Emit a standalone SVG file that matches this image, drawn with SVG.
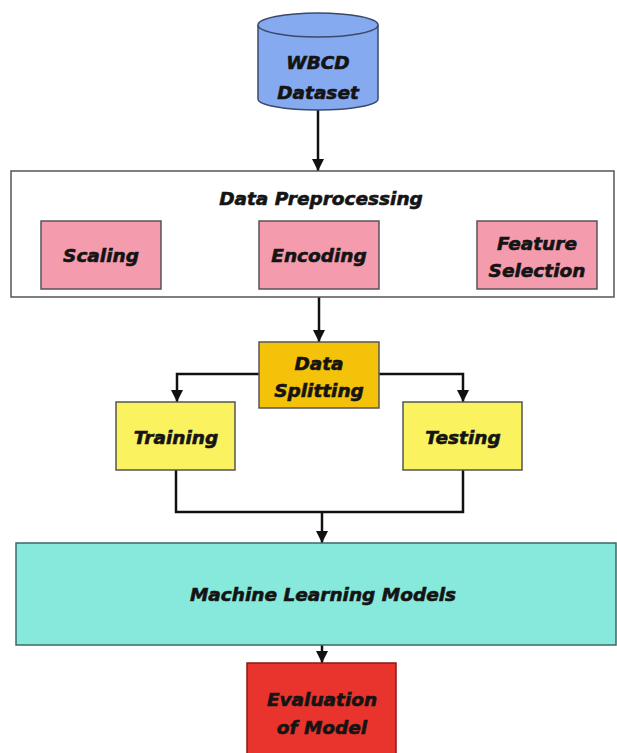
<svg xmlns="http://www.w3.org/2000/svg" width="617" height="753" viewBox="0 0 617 753">
  <defs>
    <marker id="arrow" viewBox="0 0 10 10" refX="10" refY="5" markerWidth="4.8" markerHeight="4.8" orient="auto" markerUnits="strokeWidth">
      <path d="M0,0 L10,5 L0,10 Z" fill="#111"/>
    </marker>
    <style>
      .lbl { font-family: "DejaVu Sans", "Liberation Sans", sans-serif; font-weight: bold; font-style: italic; font-size: 18.5px; fill: #141414; text-anchor: middle; stroke: #141414; stroke-width: 0.6; }
      .box { stroke: #555; stroke-width: 1.5; }
      .wire { fill: none; stroke: #111; stroke-width: 2.5; }
    </style>
  </defs>
  <rect width="617" height="753" fill="#fff"/>

  <!-- connectors -->
  <g id="connectors">
    <path class="wire" d="M318,110 V171" marker-end="url(#arrow)"/>
    <path class="wire" d="M319,297 V342" marker-end="url(#arrow)"/>
    <path class="wire" d="M259,374 H177 V402" marker-end="url(#arrow)"/>
    <path class="wire" d="M379,374 H463 V402" marker-end="url(#arrow)"/>
    <path class="wire" d="M176,470 V512 H463 V470"/>
    <path class="wire" d="M322,512 V543" marker-end="url(#arrow)"/>
    <path class="wire" d="M322,645 V663" marker-end="url(#arrow)"/>
  </g>

  <!-- dataset cylinder -->
  <g id="dataset">
    <path d="M258,25 V99 A60,11 0 0 0 378,99 V25" fill="#86aaf0" stroke="#3a4a6a" stroke-width="1.5"/>
    <ellipse cx="318" cy="25" rx="60" ry="12" fill="#86aaf0" stroke="#3a4a6a" stroke-width="1.5"/>
    <text class="lbl" x="318" y="69">WBCD</text>
    <text class="lbl" x="318" y="99">Dataset</text>
  </g>

  <!-- preprocessing container -->
  <g id="preprocessing">
    <rect x="11" y="171" width="603" height="126" fill="#fff" class="box"/>
    <text class="lbl" x="321" y="205">Data Preprocessing</text>
  </g>
  <g id="scaling">
    <rect x="41" y="221" width="120" height="68" fill="#f49cae" class="box"/>
    <text class="lbl" x="101" y="262">Scaling</text>
  </g>
  <g id="encoding">
    <rect x="259" y="221" width="120" height="68" fill="#f49cae" class="box"/>
    <text class="lbl" x="319" y="262">Encoding</text>
  </g>
  <g id="feature-selection">
    <rect x="477" y="221" width="120" height="68" fill="#f49cae" class="box"/>
    <text class="lbl" x="537" y="250">Feature</text>
    <text class="lbl" x="537" y="277">Selection</text>
  </g>

  <!-- splitting -->
  <g id="data-splitting">
    <rect x="259" y="342" width="120" height="66" fill="#f5c20a" class="box"/>
    <text class="lbl" x="319" y="370">Data</text>
    <text class="lbl" x="319" y="397">Splitting</text>
  </g>
  <g id="training">
    <rect x="116" y="402" width="119" height="68" fill="#faf25e" class="box"/>
    <text class="lbl" x="176" y="444">Training</text>
  </g>
  <g id="testing">
    <rect x="403" y="402" width="119" height="68" fill="#faf25e" class="box"/>
    <text class="lbl" x="463" y="444">Testing</text>
  </g>

  <!-- models -->
  <g id="ml-models">
    <rect x="16" y="543" width="600" height="102" fill="#86e9dc" stroke="#3a6a66" stroke-width="1.5"/>
    <text class="lbl" x="323" y="601">Machine Learning Models</text>
  </g>

  <!-- evaluation -->
  <g id="evaluation">
    <rect x="247" y="663" width="149" height="95" fill="#e8342c" stroke="#8a1a16" stroke-width="1.5"/>
    <text class="lbl" x="322" y="706">Evaluation</text>
    <text class="lbl" x="322" y="734">of Model</text>
  </g>
</svg>
